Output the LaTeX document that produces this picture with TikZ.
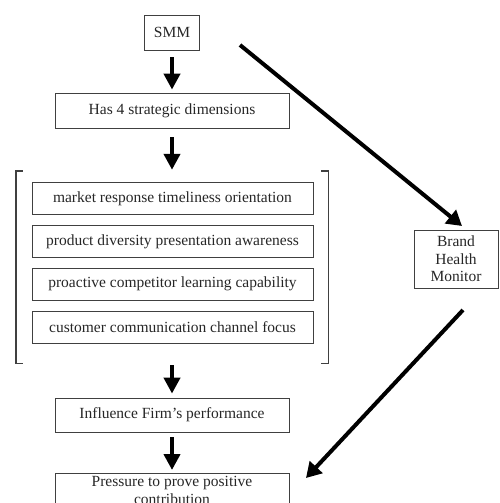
\documentclass[tikz,border=0pt]{standalone}
\usepackage{fontspec}
\setmainfont{Liberation Serif}
\usepackage{tikz}
\usetikzlibrary{arrows.meta, positioning}

\begin{document}
\begin{tikzpicture}[
        x=1pt, y=-1pt,
        % one box style for every text box
        box/.style={
            draw=black!75, rectangle,
            line width=0.8pt,
            minimum height=34pt,
            minimum width=234pt,
            align=center,
            inner sep=2pt,
            text=black!85,
            font=\fontsize{15.5}{18}\selectfont
        },
        dimbox/.style={box, minimum width=281pt, minimum height=32pt},
        flow/.style={-{Triangle[length=16pt,width=16pt]}, line width=4.5pt, shorten <=7pt, shorten >=3pt},
        diag/.style={-{Triangle[length=15pt,width=17pt]}, line width=4pt},
        bracket/.style={draw=black!75, line width=1.4pt}
    ]

    \clip (0,0) rectangle (499,503);

    % Main chain
    \node[box, minimum width=55pt, minimum height=35pt] (smm) at (172,32.5) {SMM};
    \node[box, minimum height=35pt] (has) at (172,110.5) {Has 4 strategic dimensions};

    % The four dimensions
    \node[dimbox] (dim1) at (172.5,198.5) {market response timeliness orientation};
    \node[dimbox, below=10pt of dim1] (dim2) {product diversity presentation awareness};
    \node[dimbox, below=10pt of dim2] (dim3) {proactive competitor learning capability};
    \node[dimbox, below=10pt of dim3] (dim4) {customer communication channel focus};
    \node[minimum width=312pt, minimum height=192pt, inner sep=0pt] (dims) at (172,267) {};
    \draw[bracket] ([xshift=7pt]dims.north west) -| (dims.south west) -- ++(7,0);
    \draw[bracket] ([xshift=-7pt]dims.north east) -| (dims.south east) -- ++(-7,0);

    % Outcomes
    \node[box] (infl) at (172,415) {Influence Firm's performance};
    \node[box, anchor=north, inner sep=1pt] (press) at (172,473) {Pressure to prove positive\\contribution};

    % Side box
    \node[box, minimum width=84pt, minimum height=58pt, font=\fontsize{15.5}{17.5}\selectfont] (brand) at (456,259) {Brand\\Health\\Monitor};

    % Arrows
    \draw[flow] (smm) -- (has);
    \draw[flow, shorten <=9pt, shorten >=1pt] (has) -- (dims);
    \draw[flow, shorten <=2pt, shorten >=4pt] (dims) -- (infl);
    \draw[flow, shorten <=5pt] (infl) -- (press);

    \coordinate (smmout) at (240,45);
    \coordinate (brandin) at (462,226);
    \coordinate (brandout) at (463,310);
    \coordinate (pressin) at (306,478);
    \draw[diag] (smmout) -- (brandin);
    \draw[diag] (brandout) -- (pressin);

\end{tikzpicture}
\end{document}
